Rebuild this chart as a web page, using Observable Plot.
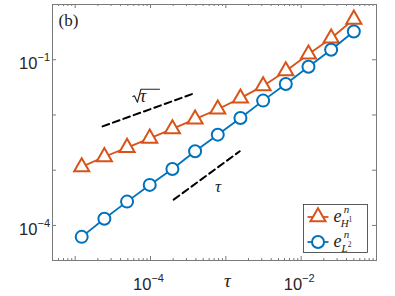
<!DOCTYPE html>
<html><head><meta charset="utf-8">
<script src="https://cdn.jsdelivr.net/npm/d3@7"></script>
<script src="https://cdn.jsdelivr.net/npm/@observablehq/plot@0.6"></script>
<style>body{margin:0;background:#fff} svg{display:block}</style>
</head><body><div id="chart"></div>
<script>
// ---- data ----
const tau   = [1.2207e-5, 2.4414e-5, 4.8828e-5, 9.7656e-5, 1.9531e-4, 3.9063e-4, 7.8125e-4, 1.5625e-3, 3.125e-3, 6.25e-3, 0.0125, 0.025, 0.05];
const errH1 = [1.15e-3, 1.75e-3, 2.57e-3, 3.78e-3, 5.6e-3, 8.4e-3, 1.27e-2, 2.02e-2, 3.36e-2, 6.27e-2, 0.126, 0.245, 0.54];
const errL2 = [6.22e-5, 1.32e-4, 2.70e-4, 5.42e-4, 1.05e-3, 2.20e-3, 4.40e-3, 8.83e-3, 1.82e-2, 3.64e-2, 7.47e-2, 0.152, 0.325];
const seriesLabels = [["H", "1"], ["L", "2"]];
const refSqrtX = [2.31e-5, 3.91e-4];
const refSqrtY = [6.22e-3, 2.50e-2];
const refLinX  = [2.03e-4, 1.53e-3];
const refLinY  = [2.94e-4, 2.20e-3];
const sqrtLabelPos = [9.1e-5, 2.23e-2];
const linLabelPos  = [7.9e-4, 5.0e-4];
const xDomain = [5e-6, 0.1];
const yDomain = [2.32e-5, 1];
const xMajorTicks = [1e-5, 1e-4, 1e-3, 1e-2, 1e-1];
const xLabelTicks = [1e-4, 1e-2];
const xLabelExps  = ["\u22124", "\u22122"];
const yMajorTicks = [1e-4, 1e-3, 1e-2, 1e-1, 1];
const yLabelTicks = [1e-4, 1e-1];
const yLabelExps  = ["\u22124", "\u22121"];
const xMinorTicks = [];
for (const d of [1e-6, 1e-5, 1e-4, 1e-3, 1e-2]) for (let k = 2; k <= 9; k++) { const v = k * d; if (v > xDomain[0] && v < xDomain[1]) xMinorTicks.push(v); }

const ORANGE = "#D95319", BLUE = "#0072BD", AX = "#7a7a7a";
const W = 395, H = 296, ML = 52, MR = 19, MT = 4, MB = 36;
const FW = W - ML - MR, FH = H - MT - MB;

const h1 = tau.map((t, i) => ({t, e: errH1[i]}));
const l2 = tau.map((t, i) => ({t, e: errL2[i]}));
const rs = refSqrtX.map((x, i) => ({x, y: refSqrtY[i]}));
const rl = refLinX.map((x, i) => ({x, y: refLinY[i]}));

const chart = Plot.plot({
  width: W, height: H, marginLeft: ML, marginRight: MR, marginTop: MT, marginBottom: MB,
  style: {fontFamily: "'Liberation Sans', Arial, sans-serif", background: "white", overflow: "visible"},
  x: {type: "log", domain: xDomain, axis: null},
  y: {type: "log", domain: yDomain, axis: null},
  marks: [
    // ticks (inward, MATLAB style)
    Plot.tickX(xMinorTicks, {x: d => d, stroke: AX, insetTop: FH - 2}),
    Plot.tickX(xMinorTicks, {x: d => d, stroke: AX, insetBottom: FH - 2}),
    Plot.tickX(xMajorTicks, {x: d => d, stroke: AX, insetTop: FH - 4}),
    Plot.tickX(xMajorTicks, {x: d => d, stroke: AX, insetBottom: FH - 4}),
    Plot.tickY(yMajorTicks, {y: d => d, stroke: AX, insetRight: FW - 4}),
    Plot.tickY(yMajorTicks, {y: d => d, stroke: AX, insetLeft: FW - 4}),
    // reference slopes
    Plot.line(rs, {x: "x", y: "y", stroke: "black", strokeWidth: 2, strokeDasharray: "7,4"}),
    Plot.line(rl, {x: "x", y: "y", stroke: "black", strokeWidth: 2, strokeDasharray: "7,4"}),
    // series
    Plot.line(h1, {x: "t", y: "e", stroke: ORANGE, strokeWidth: 1.8}),
    Plot.dot(h1, {x: "t", y: "e", symbol: "triangle", r: 5.6, stroke: ORANGE, fill: "white", strokeWidth: 2}),
    Plot.line(l2, {x: "t", y: "e", stroke: BLUE, strokeWidth: 1.8}),
    Plot.dot(l2, {x: "t", y: "e", symbol: "circle", r: 6, stroke: BLUE, fill: "white", strokeWidth: 2}),
    Plot.frame({stroke: AX}),
    Plot.text(["(b)"], {frameAnchor: "top-left", dx: 6, dy: 9, fontSize: 17, fontFamily: "'Liberation Serif', serif", fill: "#222", textAnchor: "start"}),
    Plot.text(["\u03C4"], {frameAnchor: "bottom", dx: 13, dy: 26, fontSize: 19, fontStyle: "italic", fontFamily: "'Liberation Serif', serif", fill: "#222"}),
    Plot.text([linLabelPos], {x: d => d[0], y: d => d[1], text: () => "\u03C4", fontSize: 17, fontStyle: "italic", fontFamily: "'Liberation Serif', serif", fill: "#222"})
  ]
});
document.getElementById("chart").appendChild(chart);

const xs = chart.scale("x"), ys = chart.scale("y");
const svg = d3.select(chart);
const g = svg.append("g").attr("font-family", "'Liberation Sans', Arial, sans-serif").attr("fill", "#262626");

// x tick labels
xLabelTicks.forEach((v, i) => {
  const t = g.append("text").attr("x", xs.apply(v) - 1.5).attr("y", H - 6).attr("text-anchor", "middle").attr("font-size", 16.5);
  t.append("tspan").text("10");
  t.append("tspan").attr("dy", -8).attr("font-size", 11).text(xLabelExps[i]);
});
// y tick labels
yLabelTicks.forEach((v, i) => {
  const t = g.append("text").attr("x", ML - 2).attr("y", ys.apply(v) + 10).attr("text-anchor", "end").attr("font-size", 16.5);
  t.append("tspan").text("10");
  t.append("tspan").attr("dy", -8).attr("font-size", 11).text(yLabelExps[i]);
});

// sqrt(tau) annotation: radical drawn as a path, tau as text
{
  const cx = xs.apply(sqrtLabelPos[0]), cy = ys.apply(sqrtLabelPos[1]);
  g.append("path")
    .attr("d", `M${cx - 14.5},${cy + 1.5} L${cx - 12.5},${cy + 0.5} L${cx - 9.5},${cy + 7} L${cx - 6},${cy - 6} L${cx + 13},${cy - 6}`)
    .attr("fill", "none").attr("stroke", "#222").attr("stroke-width", 1.1).attr("stroke-linejoin", "round");
  g.append("text").attr("x", cx - 4).attr("y", cy + 7).attr("font-family", "'Liberation Serif', serif").attr("font-style", "italic").attr("font-size", 18).attr("fill", "#222").text("\u03C4");
}

// legend
{
  const lx = 303.5, ly = 204.5, lw = 64, lh = 48;
  const lg = svg.append("g");
  lg.append("rect").attr("x", lx).attr("y", ly).attr("width", lw).attr("height", lh).attr("fill", "white").attr("stroke", "#333").attr("stroke-width", 0.8);
  const cols = [ORANGE, BLUE], syms = [d3.symbolTriangle, d3.symbolCircle], sizes = [Math.PI * 5.6 * 5.6, Math.PI * 36];
  seriesLabels.forEach((lab, i) => {
    const yy = ly + 12.5 + i * 25;
    lg.append("line").attr("x1", lx + 4).attr("x2", lx + 25).attr("y1", yy).attr("y2", yy).attr("stroke", cols[i]).attr("stroke-width", 1.8);
    lg.append("path").attr("d", d3.symbol(syms[i], sizes[i])()).attr("transform", `translate(${lx + 14.5},${yy})`).attr("fill", "white").attr("stroke", cols[i]).attr("stroke-width", 2);
    const t = lg.append("text").attr("x", lx + 34).attr("y", yy + 5).attr("font-family", "'Liberation Serif', serif").attr("font-style", "italic").attr("font-size", 18).attr("fill", "#222");
    t.append("tspan").text("e");
    t.append("tspan").attr("x", lx + 43).attr("y", yy - 4).attr("font-size", 11).text("n");
    t.append("tspan").attr("x", lx + 43).attr("y", yy + 9.5).attr("font-size", 11).text(lab[0]);
    t.append("tspan").attr("dy", -4.5).attr("font-size", 7.5).attr("font-style", "normal").text(lab[1]);
  });
}
</script></body></html>
